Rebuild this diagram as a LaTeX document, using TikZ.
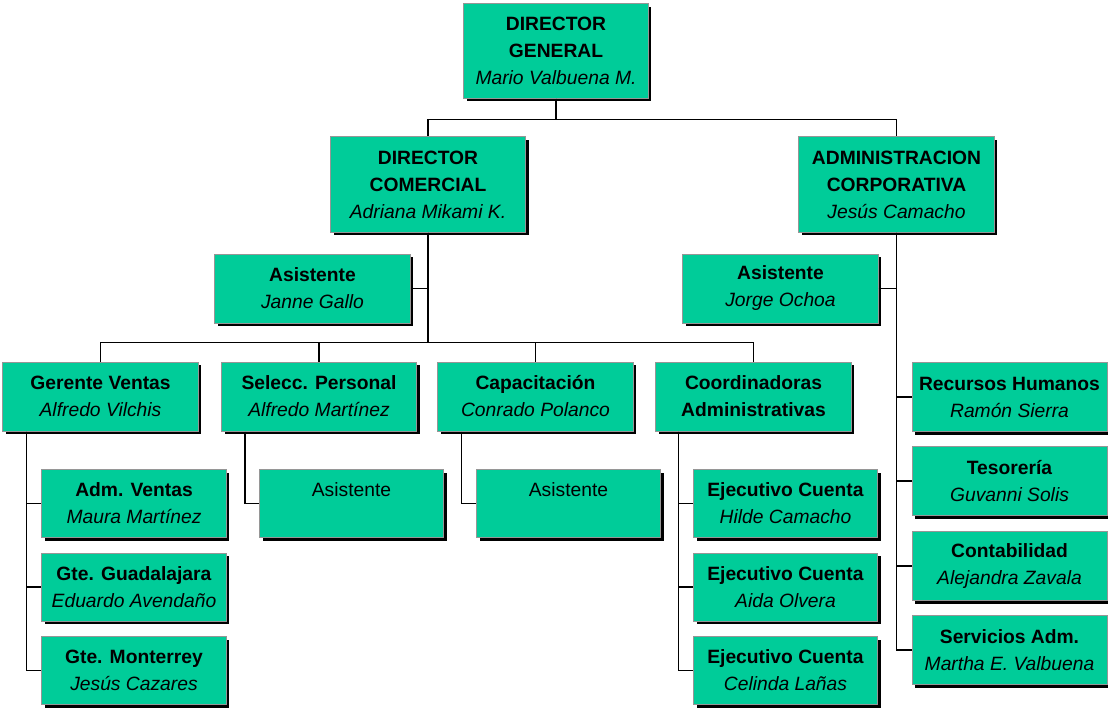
\documentclass[tikz,border=0pt]{standalone}
\usepackage{fontspec}
\setmainfont{Liberation Sans}
\usetikzlibrary{shadows,calc}
\definecolor{boxgreen}{RGB}{0,204,153}
\definecolor{boxrim}{RGB}{150,150,150}

\begin{document}
\begin{tikzpicture}[x=0.025cm, y=-0.025cm, line width=0.8pt,
		org box/.style={rectangle, draw=boxrim, line width=0.7pt, fill=boxgreen,
			align=center, inner sep=0pt, font=\fontsize{13.7}{19.2}\selectfont,
			drop shadow={shadow xshift=0.08cm, shadow yshift=-0.08cm, fill=black, opacity=1}},
		head node/.style={org box, minimum width=4.875cm, minimum height=2.375cm},
		unit node/.style={org box, minimum width=4.875cm, minimum height=1.725cm},
		sub node/.style={org box, minimum width=4.6cm, minimum height=1.7cm}]
		\useasboundingbox (0,0) rectangle (1108,709);
		
		% direccion
		\node[head node, minimum width=4.6cm, minimum height=2.35cm] (dg) at (556,51)
		{\textbf{DIRECTOR}\\\textbf{GENERAL}\\\textit{Mario Valbuena M.}};
		\node[head node] (dc) at (428,184.5)
		{\textbf{DIRECTOR}\\\textbf{COMERCIAL}\\\textit{Adriana Mikami K.}};
		\node[head node] (ac) at (896.5,184.5)
		{\textbf{ADMINISTRACION}\\\textbf{CORPORATIVA}\\\textit{Jesús Camacho}};
		\node[unit node] (asl) at (312.5,288.5) {\textbf{Asistente}\\\textit{Janne Gallo}};
		\node[unit node] (asr) at (780.5,288.5) {\textbf{Asistente}\\\textit{Jorge Ochoa}};
		
		% area comercial
		\node[unit node] (gv) at (100.5,396.5) {\textbf{Gerente Ventas}\\\textit{Alfredo Vilchis}};
		\node[unit node] (sp) at (319,396.5) {\textbf{Selecc. Personal}\\\textit{Alfredo Martínez}};
		\node[unit node] (cap) at (535.5,396.5) {\textbf{Capacitación}\\\textit{Conrado Polanco}};
		\node[unit node] (co) at (753.5,396.5) {\textbf{Coordinadoras}\\\textbf{Administrativas}};
		
		\node[sub node] (av) at (134,503.5) {\textbf{Adm. Ventas}\\\textit{Maura Martínez}};
		\node[sub node] (gg) at (134,587) {\textbf{Gte. Guadalajara}\\\textit{Eduardo Avendaño}};
		\node[sub node] (gm) at (134,670.5) {\textbf{Gte. Monterrey}\\\textit{Jesús Cazares}};
		\node[sub node] (as1) at (351.5,503.5) {Asistente\\\phantom{Asistente}};
		\node[sub node] (as2) at (568.5,503.5) {Asistente\\\phantom{Asistente}};
		\node[sub node] (ec1) at (785.5,503.5) {\textbf{Ejecutivo Cuenta}\\\textit{Hilde Camacho}};
		\node[sub node] (ec2) at (785.5,587) {\textbf{Ejecutivo Cuenta}\\\textit{Aida Olvera}};
		\node[sub node] (ec3) at (785.5,670.5) {\textbf{Ejecutivo Cuenta}\\\textit{Celinda Lañas}};
		
		% area corporativa
		\node[unit node] (rh) at (1009.5,397) {\textbf{Recursos Humanos}\\\textit{Ramón Sierra}};
		\node[unit node] (tes) at (1009.5,481) {\textbf{Tesorería}\\\textit{Guvanni Solis}};
		\node[unit node] (con) at (1009.5,566) {\textbf{Contabilidad}\\\textit{Alejandra Zavala}};
		\node[unit node] (sa) at (1009.5,650) {\textbf{Servicios Adm.}\\\textit{Martha E. Valbuena}};
		
		% lineas
		\draw (dg.south) -- ++(0,21) -| (dc.north);
		\draw (dg.south) -- ++(0,21) -| (ac.north);
		\foreach \n in {gv,sp,cap,co}
		\draw (dc.south) -- ++(0,110) -| (\n.north);
		\draw (asl.east) -- (asl.east -| dc.south);
		
		\coordinate (gvt) at ($(gv.south west)+(24,0)$);
		\coordinate (spt) at ($(sp.south west)+(24,0)$);
		\coordinate (capt) at ($(cap.south west)+(24,0)$);
		\coordinate (cot) at ($(co.south west)+(23,0)$);
		\foreach \n in {av,gg,gm}
		\draw (gvt) |- (\n.west);
		\draw (spt) |- (as1.west);
		\draw (capt) |- (as2.west);
		\foreach \n in {ec1,ec2,ec3}
		\draw (cot) |- (\n.west);
		
		\draw (asr.east) -- (asr.east -| ac.south);
		\foreach \n in {rh,tes,con,sa}
		\draw (ac.south) |- (\n.west);
\end{tikzpicture}
\end{document}
